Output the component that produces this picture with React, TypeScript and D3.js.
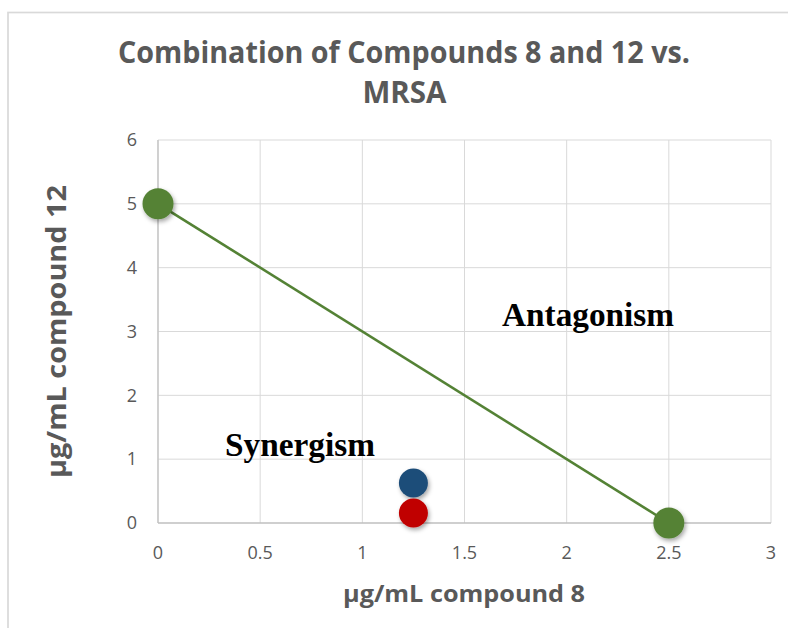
import React from 'react';
import * as d3 from 'd3';

// isobole end points (MIC of each compound alone)
const isoboleX = [0, 2.5];
const isoboleY = [5, 0];

// combination points
const comboX = [1.25, 1.25];
const comboY = [0.625, 0.156];
const comboColors = ['#1F4E79', '#C00000'];

const xTicks = [0, 0.5, 1, 1.5, 2, 2.5, 3];
const yTicks = [0, 1, 2, 3, 4, 5, 6];

const titleLines = ['Combination of Compounds 8 and 12 vs.', 'MRSA'];
const xLabel = 'µg/mL compound 8';
const yLabel = 'µg/mL compound 12';

export default function App() {
    const width = 788;
    const height = 628;
    const plot = { left: 158, right: 771, top: 140, bottom: 523 };

    const xScale = d3.scaleLinear().domain([0, 3]).range([plot.left, plot.right]);
    const yScale = d3.scaleLinear().domain([0, 6]).range([plot.bottom, plot.top]);

    const line = d3.line<number>()
        .x(i => xScale(isoboleX[i]))
        .y(i => yScale(isoboleY[i]));

    const sans = '"Open Sans", sans-serif';
    const grey = '#595959';

    return (
        <svg width={width} height={height}
            style={{ position: 'absolute', left: 0, top: 0, background: 'white' }}>
            <defs>
                <filter id="shadow" x="-50%" y="-50%" width="200%" height="200%">
                    <feDropShadow dx="1.5" dy="2.5" stdDeviation="2" floodColor="#000" floodOpacity="0.35" />
                </filter>
            </defs>

            {/* chart frame */}
            <rect x={8} y={12.5} width={900} height={800} fill="white" stroke="#d9d9d9" strokeWidth={1.7} />

            {/* title */}
            <text x={404} y={63} textAnchor="middle" fontFamily={sans} fontWeight="bold"
                fontSize={30} fill={grey} textLength={572} lengthAdjust="spacingAndGlyphs">
                {titleLines[0]}
            </text>
            <text x={404.5} y={103} textAnchor="middle" fontFamily={sans} fontWeight="bold"
                fontSize={30} fill={grey} textLength={84} lengthAdjust="spacingAndGlyphs">
                {titleLines[1]}
            </text>

            {/* grid */}
            {xTicks.map(t => (
                <line key={'gx' + t} x1={xScale(t)} x2={xScale(t)} y1={plot.top} y2={plot.bottom}
                    stroke="#d9d9d9" strokeWidth={1} />
            ))}
            {yTicks.map(t => (
                <line key={'gy' + t} x1={plot.left} x2={plot.right} y1={yScale(t)} y2={yScale(t)}
                    stroke={t === 0 ? '#bfbfbf' : '#d9d9d9'} strokeWidth={t === 0 ? 1.3 : 1} />
            ))}
            <line x1={plot.left} x2={plot.left} y1={plot.top} y2={plot.bottom} stroke="#bfbfbf" strokeWidth={1.2} />

            {/* tick labels */}
            {yTicks.map(t => (
                <text key={'ty' + t} x={137} y={yScale(t)} dy="0.35em" textAnchor="end"
                    fontFamily={sans} fontSize={18} fill={grey}>{t}</text>
            ))}
            {xTicks.map(t => (
                <text key={'tx' + t} x={xScale(t)} y={559} textAnchor="middle"
                    fontFamily={sans} fontSize={18} fill={grey}>{t}</text>
            ))}

            {/* axis titles */}
            <text x={464} y={602} textAnchor="middle" fontFamily={sans} fontWeight="bold"
                fontSize={24} fill={grey} textLength={242} lengthAdjust="spacingAndGlyphs">{xLabel}</text>
            <text transform={`translate(66,${(plot.top + plot.bottom) / 2}) rotate(-90)`} textAnchor="middle"
                fontFamily={sans} fontWeight="bold" fontSize={26} fill={grey}
                textLength={293} lengthAdjust="spacingAndGlyphs">{yLabel}</text>

            {/* region labels */}
            <text x={502} y={326} fontFamily='"Liberation Serif", "Times New Roman", serif' fontWeight="bold"
                fontSize={33} fill="#000" textLength={172} lengthAdjust="spacingAndGlyphs">Antagonism</text>
            <text x={225} y={456} fontFamily='"Liberation Serif", "Times New Roman", serif' fontWeight="bold"
                fontSize={33} fill="#000" textLength={150} lengthAdjust="spacingAndGlyphs">Synergism</text>

            {/* isobole */}
            <path d={line(isoboleX.map((_, i) => i)) || ''} fill="none" stroke="#548235" strokeWidth={2.6} />
            {isoboleX.map((v, i) => (
                <circle key={'iso' + i} cx={xScale(v)} cy={yScale(isoboleY[i])} r={15.5}
                    fill="#548235" filter="url(#shadow)" />
            ))}

            {/* combinations */}
            {comboX.map((v, i) => (
                <circle key={'c' + i} cx={xScale(v)} cy={yScale(comboY[i])} r={14.5}
                    fill={comboColors[i]} filter="url(#shadow)" />
            ))}
        </svg>
    );
}
